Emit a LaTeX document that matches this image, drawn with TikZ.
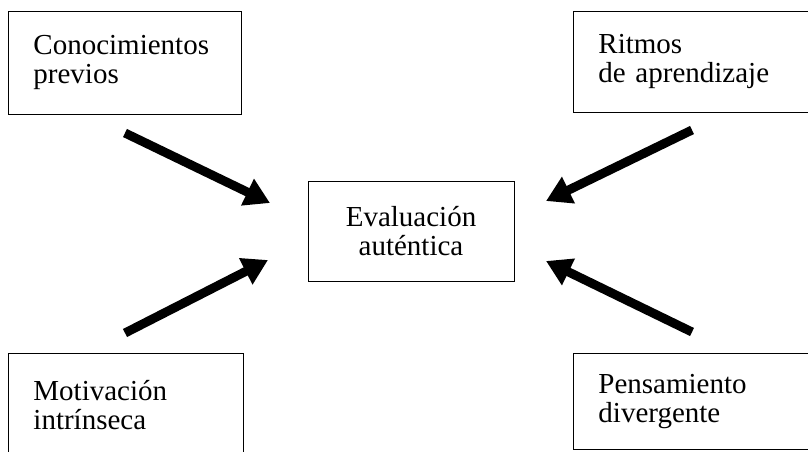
\documentclass[tikz,border=0pt]{standalone}
\usepackage{fontspec}
\setmainfont{Liberation Serif}
\usetikzlibrary{arrows.meta}
\begin{document}
\begin{tikzpicture}[x=1pt,y=-1pt,
  box/.style={draw=black, line width=0.9pt, rectangle, anchor=north west,
    inner xsep=25pt, inner ysep=0pt, align=left,
    font=\fontsize{29}{29}\selectfont},
  cbox/.style={draw=black, line width=0.9pt, rectangle,
    inner sep=0pt, align=center, minimum width=206pt, minimum height=100pt,
    font=\fontsize{29}{29}\selectfont},
  bigarrow/.style={line width=9pt, -{Triangle[length=25pt,width=28pt]}}]
\useasboundingbox (0,0) rectangle (808,451);
\clip (0,0) rectangle (808,451);
\fill[white] (0,0) rectangle (808,451);
\node[box, text width=183pt, minimum height=103pt] (cp) at (8,11) {Conocimientos\\previos};
\node[box, text width=200pt, minimum height=101pt] (ra) at (573,11) {Ritmos\\de aprendizaje};
\node[box, text width=185pt, minimum height=103pt] (mi) at (8,353) {Motivación\\intrínseca};
\node[box, text width=200pt, minimum height=96pt] (pd) at (573,353) {Pensamiento\\divergente};
\node[cbox] (ea) at (411,231) {Evaluación\\auténtica};
\coordinate (t1) at (125,133);
\coordinate (h1) at (270,203);
\coordinate (t2) at (692,130);
\coordinate (h2) at (546,201);
\coordinate (t3) at (125,333);
\coordinate (h3) at (268,260);
\coordinate (t4) at (692,332);
\coordinate (h4) at (546,261);
\draw[bigarrow] (t1) -- (h1);
\draw[bigarrow] (t2) -- (h2);
\draw[bigarrow] (t3) -- (h3);
\draw[bigarrow] (t4) -- (h4);
\end{tikzpicture}
\end{document}
